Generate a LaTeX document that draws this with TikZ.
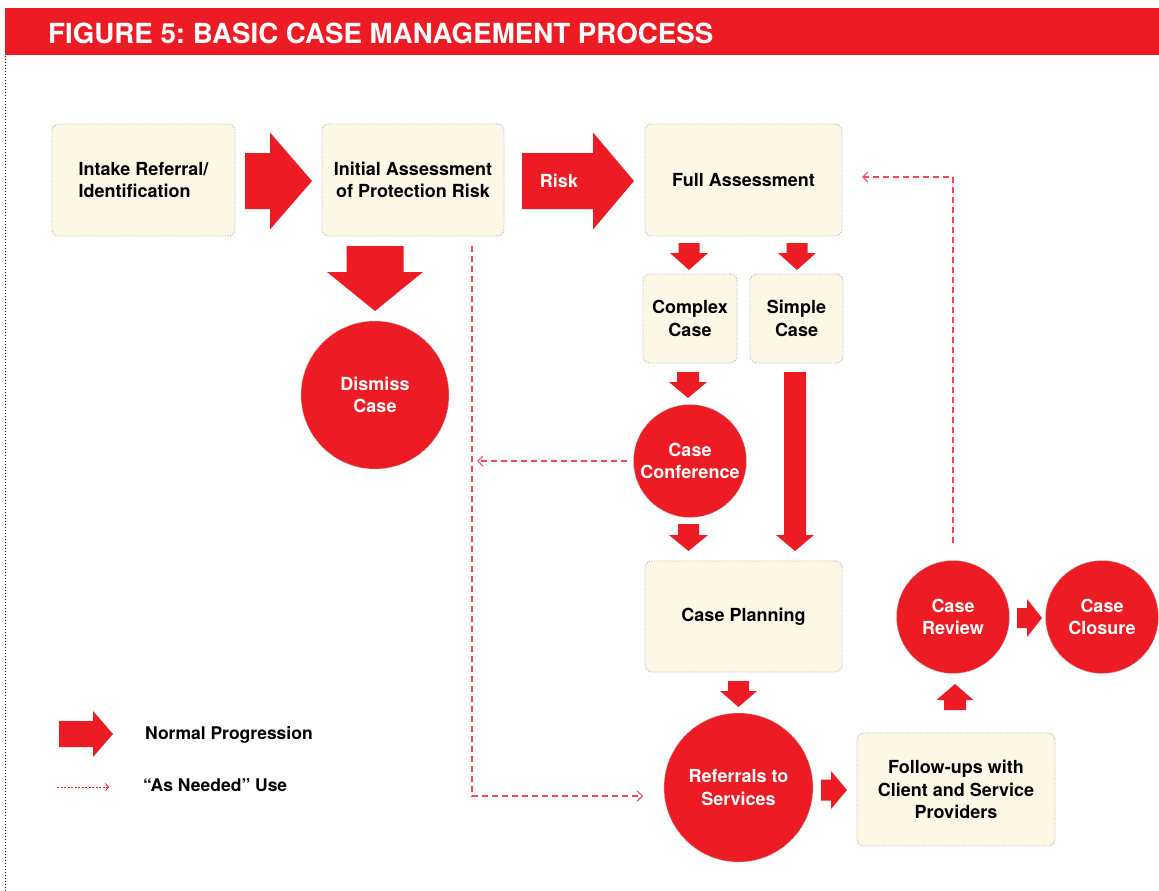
\documentclass[tikz,border=0pt]{standalone}
\usepackage{fontspec}
\setmainfont{TeX Gyre Heros}
\usetikzlibrary{arrows.meta, calc}

\definecolor{casered}{HTML}{ED1C24}
\definecolor{cream}{HTML}{FDF8E6}
\definecolor{dashred}{HTML}{EF4A55}
\newcommand{\casefont}{\bfseries\fontsize{18}{22.5}\selectfont}
\newcommand{\legendfont}{\bfseries\fontsize{17.5}{21}\selectfont}
\frenchspacing

\begin{document}
\begin{tikzpicture}[x=1pt, y=-1pt,
    casebox/.style={draw=gray!60, line width=0.9pt, dash pattern=on 1pt off 1.5pt, fill=cream,
        rounded corners=7pt, inner sep=0pt, align=center, font=\casefont},
    casedot/.style={circle, fill=casered, draw=gray!45, line width=0.6pt, dash pattern=on 1pt off 1pt,
        inner sep=0pt, align=center, text=white, font=\casefont},
    asneeded/.style={draw=dashred, line width=1.1pt, dash pattern=on 6pt off 4pt,
        -{Straight Barb[length=5pt,width=10pt]}},
    pics/fatarrow/.style n args={4}{code={
        \fill[casered] (0,-#2) -- ({#1-#4},-#2) -- ({#1-#4},-#3) -- (#1,0)
            -- ({#1-#4},#3) -- ({#1-#4},#2) -- (0,#2) -- cycle;
    }}]
            \useasboundingbox (0,0) rectangle (1159,891);

            % frame and title bar
            \draw[black, line width=0.8pt, dash pattern=on 1pt off 2pt] (5,8) -- (5,891);
            \fill[casered] (5,8) rectangle (1159,55);
            \node[anchor=base west, inner sep=0pt, text=white, font=\bfseries\fontsize{27.7}{30}\selectfont] (title) at (48,44)
                {FIGURE 5: BASIC CASE MANAGEMENT PROCESS};

            % boxes
            \node[casebox, align=left, minimum width=183pt, minimum height=112pt] (intake) at (143.5,180) {Intake Referral/\\Identification};
            \node[casebox, minimum width=182pt, minimum height=112pt] (initial) at (413,180) {Initial Assessment\\of Protection Risk};
            \node[casebox, minimum width=197pt, minimum height=112pt] (full) at (743.5,180) {Full Assessment};
            \node[casebox, minimum width=94pt, minimum height=89pt] (complex) at (690,318.5) {Complex\\Case};
            \node[casebox, minimum width=93pt, minimum height=89pt] (simple) at (796.5,318.5) {Simple\\Case};
            \node[casebox, minimum width=197pt, minimum height=111pt] (planning) at (743.5,616.5) {Case Planning};
            \node[casebox, minimum width=198pt, minimum height=113pt] (followup) at (956,789.5) {Follow-ups with\\Client and Service\\Providers};

            % circles
            \node[casedot, minimum size=148pt] (dismiss) at (375,395) {Dismiss\\Case};
            \node[casedot, minimum size=113pt] (conference) at (690,461) {Case\\Conference};
            \node[casedot, minimum size=149pt] (referrals) at (738.5,787.5) {Referrals to\\Services};
            \node[casedot, minimum size=113pt] (review) at (953,617) {Case\\Review};
            \node[casedot, minimum size=113pt] (closure) at (1102,617) {Case\\Closure};

            % normal progression
            \pic at (245,181) {fatarrow={67}{28}{48.5}{42}};
            \pic at (522,181) {fatarrow={112}{28}{48.5}{41}};
            \node[text=white, font=\casefont] (risk) at (559,181) {Risk};
            \pic[rotate=-90] at (375,246) {fatarrow={65}{28.5}{48}{39}};
            \pic[rotate=-90] at (689,243) {fatarrow={27}{10.5}{19}{17}};
            \pic[rotate=-90] at (797,243) {fatarrow={27}{10.5}{19}{17}};
            \pic[rotate=-90] at (688,372) {fatarrow={26}{11}{19}{16}};
            \pic[rotate=-90] at (688.5,524) {fatarrow={27}{10.5}{19.5}{16}};
            \pic[rotate=-90] at (795,372) {fatarrow={179}{11}{19}{16}};
            \pic[rotate=-90] at (738.5,681) {fatarrow={26}{10.5}{18.5}{16}};
            \pic at (821,790) {fatarrow={26}{10.5}{19}{16}};
            \pic[rotate=90] at (955,710) {fatarrow={26}{11}{18.5}{16}};
            \pic at (1017,618) {fatarrow={25}{10}{19}{15}};

            % as needed
            \coordinate (dropA) at (472,246);
            \coordinate (intoB) at (643,796);
            \draw[asneeded] (dropA) |- (intoB);
            \coordinate (backA) at (477,461);
            \draw[asneeded, shorten <=6pt] (conference.west) -- (backA);
            \coordinate (backB) at (862,177);
            \draw[asneeded, shorten <=17pt] (review.north) |- (backB);

            % legend
            \pic at (59,734) {fatarrow={54}{13}{23}{20}};
            \node[anchor=west, inner sep=0pt, font=\legendfont] (normal) at (145,735) {Normal Progression};
            \coordinate (legA) at (57,787);
            \coordinate (legB) at (109,787);
            \draw[draw=casered, line width=0.8pt, dash pattern=on 2pt off 1.5pt,
                -{Straight Barb[length=3pt,width=7pt]}] (legA) -- (legB);
            \node[anchor=west, inner sep=0pt, font=\legendfont] (needed) at (143,785) {“As Needed” Use};
        \end{tikzpicture}
\end{document}
